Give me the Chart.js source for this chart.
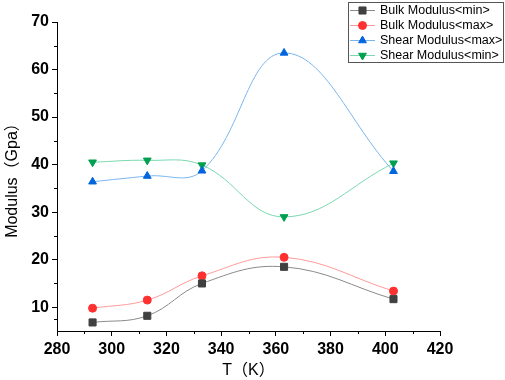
<!DOCTYPE html>
<html>
<head>
<meta charset="utf-8">
<script src="https://cdn.jsdelivr.net/npm/chart.js@4.4.0/dist/chart.umd.min.js"></script>
<style>
  html, body { margin: 0; padding: 0; background: #fff; }
</style>
</head>
<body>
<canvas id="chart" width="505" height="380"></canvas>
<script>
const temps = [293, 313, 333, 363, 403];
const bulkMin = [6.8, 8.2, 15.0, 18.5, 11.7];
const bulkMax = [9.8, 11.5, 16.6, 20.5, 13.4];
const shearMax = [36.4, 37.6, 38.7, 63.5, 38.6];
const shearMin = [40.5, 40.9, 39.9, 29.0, 40.3];
const seriesNames = ["Bulk Modulus<min>", "Bulk Modulus<max>", "Shear Modulus<max>", "Shear Modulus<min>"];
const xTicks = [280, 300, 320, 340, 360, 380, 400, 420];
const yTicks = [10, 20, 30, 40, 50, 60, 70];

const FONT = "'Liberation Sans', Arial, 'Noto Sans CJK SC', sans-serif";

function pts(vals) {
  return temps.map((t, i) => ({ x: t, y: vals[i] }));
}

function makeSet(label, vals, line, marker, style, radius, rot) {
  return {
    label,
    data: pts(vals),
    borderColor: line,
    borderWidth: 1,
    pointStyle: style,
    pointRadius: radius,
    pointRotation: rot || 0,
    pointBackgroundColor: marker,
    pointBorderColor: marker,
    pointBorderWidth: 1,
    tension: 0.4,
    fill: false
  };
}

// minor ticks between the labelled ones
const minorTicks = {
  id: "minorTicks",
  afterDraw(chart) {
    const ctx = chart.ctx;
    const xs = chart.scales.x, ys = chart.scales.y;
    ctx.save();
    ctx.strokeStyle = "#000";
    ctx.lineWidth = 1;
    ctx.beginPath();
    for (let i = 0; i < xTicks.length - 1; i++) {
      const px = Math.round(xs.getPixelForValue((xTicks[i] + xTicks[i + 1]) / 2)) + 0.5;
      ctx.moveTo(px, xs.top);
      ctx.lineTo(px, xs.top + 3);
    }
    const yVals = [5].concat(yTicks);
    for (let i = 0; i < yVals.length - 1; i++) {
      const py = Math.round(ys.getPixelForValue((yVals[i] + yVals[i + 1]) / 2)) + 0.5;
      ctx.moveTo(ys.right, py);
      ctx.lineTo(ys.right - 3, py);
    }
    ctx.stroke();
    ctx.restore();
  }
};

// framed legend in the top right corner, line + marker like the original
const legendBox = {
  id: "legendBox",
  afterDraw(chart) {
    const ctx = chart.ctx;
    ctx.save();
    ctx.fillStyle = "#fff";
    ctx.fillRect(348.5, 2.5, 155, 60);
    ctx.strokeStyle = "#555";
    ctx.lineWidth = 1;
    ctx.strokeRect(348.5, 2.5, 155, 60);
    chart.data.datasets.forEach((ds, i) => {
      const y = 10.5 + i * 15;
      ctx.strokeStyle = ds.borderColor;
      ctx.beginPath();
      ctx.moveTo(350, y);
      ctx.lineTo(375, y);
      ctx.stroke();
      ctx.fillStyle = ds.pointBackgroundColor;
      ctx.strokeStyle = ds.pointBorderColor;
      Chart.helpers.drawPoint(ctx, {
        pointStyle: ds.pointStyle,
        radius: ds.pointRadius,
        rotation: ds.pointRotation,
        borderWidth: 1
      }, 362.5, y);
      ctx.fillStyle = "#000";
      ctx.font = "12.5px " + FONT;
      ctx.textBaseline = "middle";
      ctx.fillText(ds.label, 380, y + 0.5);
    });
    ctx.restore();
  }
};

new Chart(document.getElementById("chart"), {
  type: "line",
  data: {
    datasets: [
      makeSet(seriesNames[0], bulkMin, "#8a8a8a", "#404040", "rect", 5),
      makeSet(seriesNames[1], bulkMax, "#ff9a9a", "#ff3030", "circle", 4),
      makeSet(seriesNames[2], shearMax, "#7ab6ee", "#0066dd", "triangle", 4.5),
      makeSet(seriesNames[3], shearMin, "#7ad8b0", "#00a050", "triangle", 4.5, 180)
    ]
  },
  options: {
    responsive: false,
    devicePixelRatio: 1,
    animation: false,
    layout: { padding: { left: 0, top: 22, right: 65, bottom: 0 } },
    plugins: { legend: { display: false }, tooltip: { enabled: false } },
    scales: {
      x: {
        type: "linear",
        min: 280,
        max: 420,
        afterBuildTicks: axis => { axis.ticks = xTicks.map(v => ({ value: v })); },
        afterFit: axis => { axis.height = 49; },
        grid: { drawOnChartArea: false, drawTicks: true, tickLength: 5, color: "#000" },
        border: { display: true, color: "#000", width: 1 },
        ticks: { color: "#000", padding: 4, maxRotation: 0, font: { family: FONT, size: 16, weight: "bold" } },
        title: { display: true, text: "T（K）", color: "#000", padding: { top: 0, bottom: 0 }, font: { family: FONT, size: 16 } }
      },
      y: {
        min: 5,
        max: 70,
        afterBuildTicks: axis => { axis.ticks = yTicks.map(v => ({ value: v })); },
        afterFit: axis => { axis.width = 57; },
        grid: { drawOnChartArea: false, drawTicks: true, tickLength: 5, color: "#000" },
        border: { display: true, color: "#000", width: 1 },
        ticks: { color: "#000", padding: 3, font: { family: FONT, size: 16, weight: "bold" } },
        title: { display: true, text: "Modulus（Gpa）", color: "#000", padding: { top: 3, bottom: 0 }, font: { family: FONT, size: 16 } }
      }
    }
  },
  plugins: [minorTicks, legendBox]
});
</script>
</body>
</html>
